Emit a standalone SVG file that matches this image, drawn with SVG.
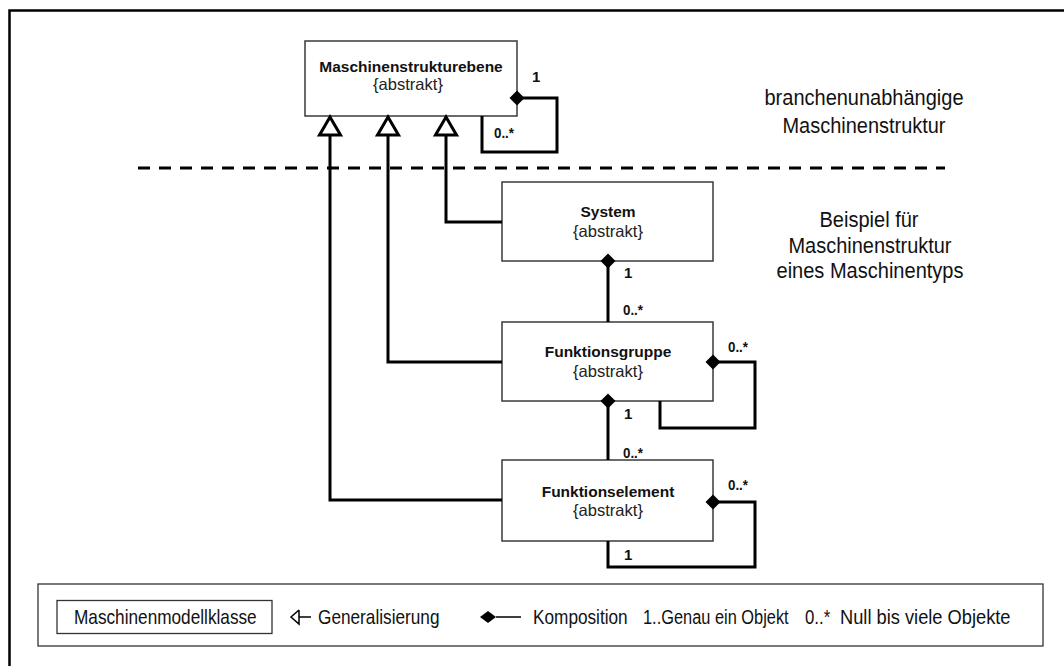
<svg xmlns="http://www.w3.org/2000/svg" width="1064" height="666" viewBox="0 0 1064 666">
  <style>
    .frame { fill: none; stroke: #000; stroke-width: 2.5; }
    .box { fill: #fff; stroke: #3a3a3a; stroke-width: 1.5; }
    .conn { fill: none; stroke: #000; stroke-width: 3; }
    .gen { fill: #fff; stroke: #000; stroke-width: 3; stroke-linejoin: miter; }
    .dia { fill: #000; stroke: none; }
    .sep { fill: none; stroke: #000; stroke-width: 3; stroke-dasharray: 12 9; }
    .name { font-family: "Liberation Sans", Arial, sans-serif; font-size: 15.5px; font-weight: bold; text-anchor: middle; fill: #111; }
    .stereo { font-family: "Liberation Sans", Arial, sans-serif; font-size: 16.5px; text-anchor: middle; fill: #222; }
    .mult { font-family: "Liberation Sans", Arial, sans-serif; font-size: 15px; font-weight: bold; fill: #111; }
    .note { font-family: "Liberation Sans", Arial, sans-serif; font-size: 22px; text-anchor: middle; fill: #111; }
    .leg { font-family: "Liberation Sans", Arial, sans-serif; font-size: 21px; fill: #111; }
    .legbox { fill: #fff; stroke: #333; stroke-width: 1.3; }
    .legline { fill: none; stroke: #000; stroke-width: 1.5; }
  </style>

  <!-- outer frame (left and top edge) -->
  <path class="frame" d="M9.5 666 V10.5 H1064"/>

  <!-- separator between generic and example structure -->
  <line class="sep" x1="138" y1="168" x2="945" y2="168"/>

  <!-- region notes -->
  <g id="note-generic">
    <text class="note" x="864" y="105" textLength="199" lengthAdjust="spacingAndGlyphs">branchenunabhängige</text>
    <text class="note" x="864" y="133" textLength="163" lengthAdjust="spacingAndGlyphs">Maschinenstruktur</text>
  </g>
  <g id="note-example">
    <text class="note" x="869" y="227" textLength="99" lengthAdjust="spacingAndGlyphs">Beispiel für</text>
    <text class="note" x="870" y="253" textLength="163" lengthAdjust="spacingAndGlyphs">Maschinenstruktur</text>
    <text class="note" x="870" y="278" textLength="187" lengthAdjust="spacingAndGlyphs">eines Maschinentyps</text>
  </g>

  <!-- classes -->
  <g id="maschinenstrukturebene">
    <rect class="box" x="305" y="41" width="212" height="75"/>
    <text class="name" x="411" y="72">Maschinenstrukturebene</text>
    <text class="stereo" x="408" y="90" textLength="70" lengthAdjust="spacingAndGlyphs">{abstrakt}</text>
  </g>
  <g id="system">
    <rect class="box" x="502" y="182" width="211" height="79"/>
    <text class="name" x="608" y="217">System</text>
    <text class="stereo" x="608" y="237" textLength="70" lengthAdjust="spacingAndGlyphs">{abstrakt}</text>
  </g>
  <g id="funktionsgruppe">
    <rect class="box" x="502" y="322" width="211" height="79"/>
    <text class="name" x="608" y="357">Funktionsgruppe</text>
    <text class="stereo" x="608" y="377" textLength="70" lengthAdjust="spacingAndGlyphs">{abstrakt}</text>
  </g>
  <g id="funktionselement">
    <rect class="box" x="502" y="460" width="211" height="81"/>
    <text class="name" x="608" y="497">Funktionselement</text>
    <text class="stereo" x="608" y="516" textLength="70" lengthAdjust="spacingAndGlyphs">{abstrakt}</text>
  </g>

  <!-- connectors -->
  <g id="connectors">
    <!-- generalisations -->
    <path class="conn" d="M330 134 V500 H502"/>
    <path class="conn" d="M388 134 V362 H502"/>
    <path class="conn" d="M446 134 V222 H502"/>
    <polygon class="gen" points="330,117 319.5,135 340.5,135"/>
    <polygon class="gen" points="388,117 377.5,135 398.5,135"/>
    <polygon class="gen" points="446,117 435.5,135 456.5,135"/>
    <!-- compositions -->
    <path class="conn" d="M517 98 H557 V152 H482 V116"/>
    <path class="conn" d="M608 261 V322"/>
    <path class="conn" d="M713 362 H755 V428 H660 V401"/>
    <path class="conn" d="M608 401 V460"/>
    <path class="conn" d="M713 502 H755 V567 H608 V541"/>
    <polygon class="dia" points="517,90.5 524.5,98 517,105.5 509.5,98"/>
    <polygon class="dia" points="608,253.5 615.5,261 608,268.5 600.5,261"/>
    <polygon class="dia" points="713,354.5 720.5,362 713,369.5 705.5,362"/>
    <polygon class="dia" points="608,393.5 615.5,401 608,408.5 600.5,401"/>
    <polygon class="dia" points="713,494.5 720.5,502 713,509.5 705.5,502"/>
    <!-- multiplicities -->
    <text class="mult" x="532" y="82">1</text>
    <text class="mult" x="494" y="138" textLength="20" lengthAdjust="spacingAndGlyphs">0..*</text>
    <text class="mult" x="624" y="278">1</text>
    <text class="mult" x="623" y="315" textLength="20" lengthAdjust="spacingAndGlyphs">0..*</text>
    <text class="mult" x="728" y="352" textLength="20" lengthAdjust="spacingAndGlyphs">0..*</text>
    <text class="mult" x="624" y="419">1</text>
    <text class="mult" x="623" y="458" textLength="20" lengthAdjust="spacingAndGlyphs">0..*</text>
    <text class="mult" x="728" y="490" textLength="20" lengthAdjust="spacingAndGlyphs">0..*</text>
    <text class="mult" x="624" y="560">1</text>
  </g>

  <!-- legend (condensed text) -->
  <g id="legend">
    <rect class="legbox" x="38" y="584" width="1005" height="62"/>
    <rect class="legbox" x="57" y="600.5" width="215" height="33"/>
    <text class="leg" transform="translate(74 624) scale(0.82 1)">Maschinenmodellklasse</text>
    <polyline class="legline" points="299,610 291,617 299,624 299,610"/>
    <line class="legline" x1="299" y1="617" x2="311" y2="617"/>
    <text class="leg" transform="translate(318 624) scale(0.82 1)">Generalisierung</text>
    <polygon class="dia" points="480,617 488,611 496,617 488,623"/>
    <line class="legline" x1="496" y1="617" x2="521" y2="617"/>
    <text class="leg" transform="translate(533 624) scale(0.82 1)">Komposition</text>
    <text class="leg" transform="translate(643 624) scale(0.78 1)">1..Genau ein Objekt</text>
    <text class="leg" transform="translate(805 624) scale(0.8 1)">0..*</text>
    <text class="leg" transform="translate(840 624) scale(0.87 1)">Null bis viele Objekte</text>
  </g>
</svg>
